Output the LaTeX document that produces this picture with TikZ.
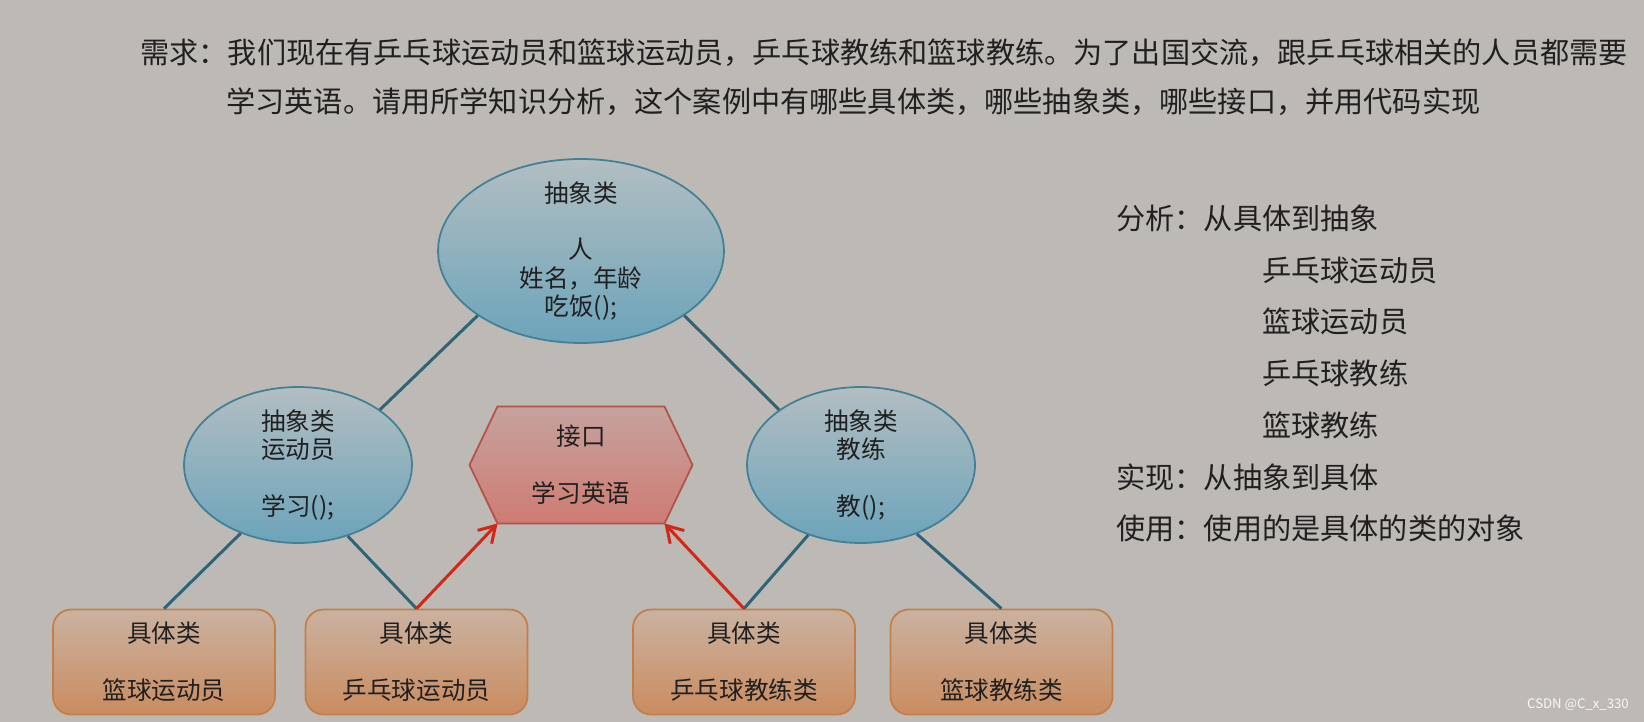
\documentclass[tikz,border=0pt]{standalone}
\usepackage{fontspec}
\setmainfont{Noto Sans CJK SC}
\usepackage{xcolor}
\usetikzlibrary{arrows.meta,positioning,shapes.geometric,calc}

\definecolor{bgcol}{RGB}{189,185,181}
\definecolor{txtcol}{RGB}{32,32,32}
\definecolor{elltop}{RGB}{178,190,194}
\definecolor{ellbot}{RGB}{108,164,186}
\definecolor{ellborder}{RGB}{66,128,150}
\definecolor{hextop}{RGB}{198,162,158}
\definecolor{hexbot}{RGB}{206,124,114}
\definecolor{hexborder}{RGB}{178,82,72}
\definecolor{boxtop}{RGB}{202,178,160}
\definecolor{boxbot}{RGB}{202,140,96}
\definecolor{boxborder}{RGB}{196,126,74}
\definecolor{linkcol}{RGB}{46,100,120}
\definecolor{implcol}{RGB}{212,38,22}

\begin{document}
\begin{tikzpicture}[x=0.02cm,y=-0.02cm,
        txt/.style={align=center, font=\fontsize{14}{16.2}\selectfont,
                    text=txtcol, inner sep=0},
        note/.style={anchor=west, inner sep=0, text=txtcol,
                     font=\fontsize{16.6}{20}\selectfont},
        absclass/.style={ellipse, draw=ellborder, line width=1pt,
                         top color=elltop, bottom color=ellbot, inner sep=0},
        concrete/.style={draw=boxborder, line width=1pt, rounded corners=0.36cm,
                         top color=boxtop, bottom color=boxbot,
                         minimum width=4.44cm, minimum height=2.1cm, txt},
        link/.style={draw=linkcol, line width=1.7pt},
        impl/.style={draw=implcol, line width=1.7pt,
                     -{Straight Barb[length=9pt,width=11pt]}}]

    \fill[bgcol] (0,0) rectangle (1644,722);
    \useasboundingbox (0,0) rectangle (1644,722);

    % task text
    \node[note] (task1) at (140,53)
        {需求：我们现在有乒乓球运动员和篮球运动员，乒乓球教练和篮球教练。为了出国交流，跟乒乓球相关的人员都需要};
    \node[note] (task2) at (226,102)
        {学习英语。请用所学知识分析，这个案例中有哪些具体类，哪些抽象类，哪些接口，并用代码实现};

    % abstract classes
    \node [absclass, minimum width=5.72cm, minimum height=3.68cm,
           label={[txt]center:抽象类\\ \\人\\姓名，年龄\\吃饭();}]
                    (person) at (581,251) {};
    \node [absclass, minimum width=4.56cm, minimum height=3.12cm,
           label={[txt]center:抽象类\\运动员\\ \\学习();}]
                    (athlete) at (298,465) {};
    \node [absclass, minimum width=4.56cm, minimum height=3.12cm,
           label={[txt]center:抽象类\\教练\\ \\教();}]
                    (coach) at (861,465) {};

    % interface
    \coordinate (ifc) at (581,465);
    \path[draw=hexborder, line width=1pt, top color=hextop, bottom color=hexbot]
        ($(ifc)+(-111.5,0)$) -- ($(ifc)+(-83.5,-58.5)$) -- ($(ifc)+(83.5,-58.5)$)
        -- ($(ifc)+(111.5,0)$) -- ($(ifc)+(83.5,58.5)$) coordinate (ifc-se)
        -- ($(ifc)+(-83.5,58.5)$) coordinate (ifc-sw) -- cycle;
    \node [txt] (english) at (ifc) {接口\\ \\学习英语};

    % concrete classes
    \node [concrete] (bballplayer) at (164,662) {具体类\\ \\篮球运动员};
    \node [concrete] (ppplayer) at (416.5,662) {具体类\\ \\乒乓球运动员};
    \node [concrete] (ppcoach) at (744,662) {具体类\\ \\乒乓球教练类};
    \node [concrete] (bballcoach) at (1001.5,662) {具体类\\ \\篮球教练类};

    \draw[link] (person.212) -- (athlete.34);
    \draw[link] (person.328) -- (coach.146);
    \draw[link] (athlete.230) -- (bballplayer.north);
    \draw[link] (athlete.305) -- (ppplayer.north);
    \draw[link] (coach.233) -- (ppcoach.north);
    \draw[link] (coach.309) -- (bballcoach.north);
    \draw[impl] (ppplayer.north) -- (ifc-sw);
    \draw[impl] (ppcoach.north) -- (ifc-se);

    % analysis
    \node[note] (ana) at (1116,218) {分析：从具体到抽象};
    \node[note] (ana1) at (1262,270) {乒乓球运动员};
    \node[note] (ana2) at (1262,321) {篮球运动员};
    \node[note] (ana3) at (1262,373) {乒乓球教练};
    \node[note] (ana4) at (1262,425) {篮球教练};
    \node[note] (real) at (1116,477) {实现：从抽象到具体};
    \node[note] (use) at (1116,528) {使用：使用的是具体的类的对象};

    \node[inner sep=0, text=white!90!bgcol, font=\fontsize{7.5}{9}\selectfont]
        (mark) at (1578,705) {CSDN @C\_x\_330};
\end{tikzpicture}
\end{document}
